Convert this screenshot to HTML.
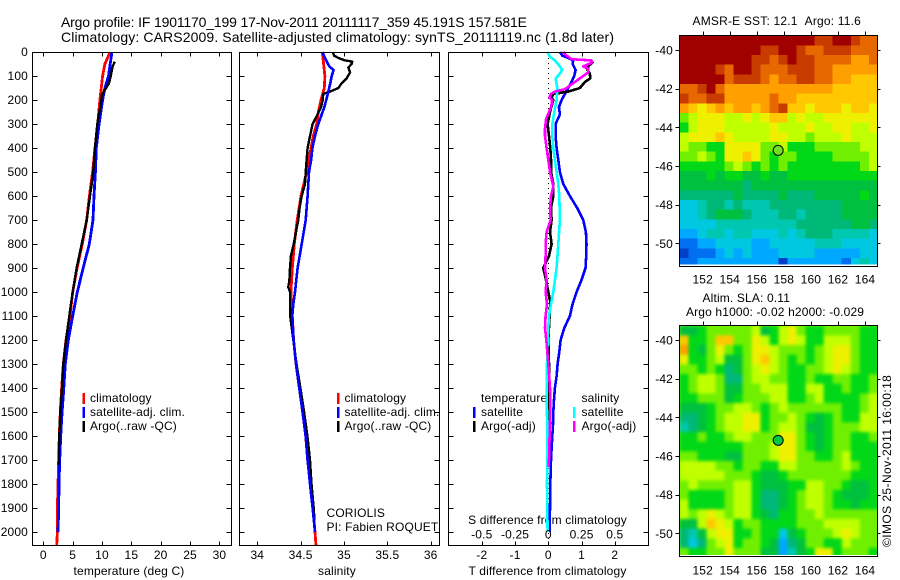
<!DOCTYPE html>
<html>
<head>
<meta charset="utf-8">
<title>Argo profile</title>
<style>
html,body{margin:0;padding:0;background:#fff;width:900px;height:580px;overflow:hidden}
svg{display:block}
text{font-family:"Liberation Sans",sans-serif;font-size:12px;fill:#000;letter-spacing:.15px}
.title{font-size:14px;letter-spacing:0}
</style>
</head>
<body>
<svg id="chart" width="900" height="580" viewBox="0 0 900 580" xmlns="http://www.w3.org/2000/svg">
<defs>
<clipPath id="sst-clip"><rect x="679.5" y="35.5" width="198" height="229"/></clipPath>
<clipPath id="sla-clip"><rect x="679.5" y="325.5" width="198" height="229.5"/></clipPath>
<filter id="sla-smooth" x="-5%" y="-5%" width="110%" height="110%" color-interpolation-filters="sRGB"><feGaussianBlur stdDeviation="1.7"/></filter>
</defs>
<text class="title" x="61" y="27" textLength="466" lengthAdjust="spacing">Argo profile: IF 1901170_199 17-Nov-2011 20111117_359 45.191S 157.581E</text>
<text class="title" x="61" y="42" textLength="553" lengthAdjust="spacing">Climatology: CARS2009. Satellite-adjusted climatology: synTS_20111119.nc (1.8d later)</text>

<text x="129" y="575" text-anchor="middle">temperature (deg C)</text>
<text x="337" y="575" text-anchor="middle">salinity</text>
<text x="547.5" y="575" text-anchor="middle">T difference from climatology</text>
<text x="547.5" y="524" text-anchor="middle">S difference from climatology</text>

<g>
<rect x="82.5" y="393" width="2.5" height="11" fill="#f00"/>
<text x="90" y="402">climatology</text>
<rect x="82.5" y="407" width="2.5" height="11" fill="#00f"/>
<text x="90" y="416">satellite-adj. clim.</text>
<rect x="82.5" y="421" width="2.5" height="11" fill="#000"/>
<text x="90" y="430">Argo(..raw -QC)</text>
</g>
<g>
<rect x="337" y="393" width="2.5" height="11" fill="#f00"/>
<text x="344.5" y="402">climatology</text>
<rect x="337" y="407" width="2.5" height="11" fill="#00f"/>
<text x="344.5" y="416">satellite-adj. clim.</text>
<rect x="337" y="421" width="2.5" height="11" fill="#000"/>
<text x="344.5" y="430">Argo(..raw -QC)</text>
</g>
<text x="326.5" y="517">CORIOLIS</text>
<text x="326.5" y="531">PI: Fabien ROQUET</text>
<g>
<text x="481" y="402">temperature</text>
<rect x="473" y="407" width="2.5" height="11" fill="#00f"/>
<text x="481" y="416">satellite</text>
<rect x="473" y="421" width="2.5" height="11" fill="#000"/>
<text x="481" y="430">Argo(-adj)</text>
<text x="581.5" y="402">salinity</text>
<rect x="573" y="407" width="2.5" height="11" fill="#0ff"/>
<text x="581.5" y="416">satellite</text>
<rect x="573" y="421" width="2.5" height="11" fill="#f0f"/>
<text x="581.5" y="430">Argo(-adj)</text>
</g>

<text x="692.5" y="25" textLength="168.5" lengthAdjust="spacing">AMSR-E SST: 12.1&#160;&#160;Argo: 11.6</text>
<text x="702.5" y="302">Altim. SLA: 0.11</text>
<text x="686" y="316">Argo h1000: -0.02 h2000: -0.029</text>
<text transform="translate(891 547) rotate(-90)" textLength="172" lengthAdjust="spacing">©IMOS 25-Nov-2011 16:00:18</text>
</svg>
<script>
// ---------- axis tick data ----------
const depthTicks = [0,100,200,300,400,500,600,700,800,900,1000,1100,1200,1300,1400,1500,1600,1700,1800,1900,2000];
const tempTicks = [0,5,10,15,20,25,30];
const salTicks = [34,34.5,35,35.5,36];
const tDiffTicks = [-2,-1,0,1,2];
const tDiffLabels = ['-2','-1','0','1','2'];
const sDiffTicks = [-0.5,-0.25,0,0.25,0.5];
const sDiffLabels = ['-0.5','-0.25','0','0.25','0.5'];
const lonTicks = [152,154,156,158,160,162,164];
const latTicks = [-40,-42,-44,-46,-48,-50];
const profileLat = -45.191;
const profileLon = 157.581;

// ---------- temperature panel ----------
const tempClimDepth = [0,50,100,200,300,400,500,600,700,800,900,1000,1100,1200,1300,1400,1500,1600,1700,1800,1900,2000,2056];
const tempClimValue = [11.4,10.5,10.1,9.65,9.27,8.8,8.4,7.85,7.4,6.65,5.75,5.0,4.55,3.87,3.4,3.13,2.9,2.73,2.62,2.5,2.4,2.4,2.28];
const tempSatDepth = [0,50,100,150,200,300,400,500,600,700,800,900,1000,1100,1200,1300,1400,1500,1600,1700,1800,1900,2000];
const tempSatValue = [11.7,11.4,11.1,10.5,10.1,9.5,9.03,8.87,8.64,8.47,7.84,6.8,5.8,5.0,4.26,3.75,3.5,3.2,2.96,2.79,2.67,2.62,2.5];
const tempArgoDepth = [40,60,100,130,180,200,300,400,500,600,700,800,900,1000,1100,1200,1300,1400,1500,1600,1700,1720];
const tempArgoValue = [12.2,11.8,11.5,11.2,9.95,9.9,9.2,8.8,8.52,7.95,7.4,6.54,5.68,5.0,4.43,3.87,3.4,3.18,2.9,2.73,2.62,2.6];

// ---------- salinity panel ----------
const salClimDepth = [0,100,150,200,250,300,350,400,500,600,700,800,900,1000,1050,1100,1200,1300,1400,1500,1600,1700,1800,1900,2000,2056];
const salClimValue = [34.75,34.78,34.773,34.735,34.704,34.685,34.646,34.619,34.569,34.504,34.46,34.427,34.404,34.388,34.396,34.404,34.419,34.446,34.485,34.523,34.558,34.58,34.612,34.642,34.665,34.677];
const salSatDepth = [0,30,60,75,100,130,180,230,300,350,400,450,500,600,700,800,900,1000,1050,1100,1200,1300,1400,1500,1600,1700,1800,1900,2000];
const salSatValue = [34.75,34.788,34.83,34.88,34.858,34.842,34.81,34.773,34.704,34.665,34.635,34.62,34.596,34.58,34.558,34.512,34.465,34.435,34.415,34.404,34.419,34.446,34.485,34.523,34.558,34.58,34.608,34.638,34.665];
const salArgoDepth = [0,15,25,35,40,50,65,85,110,130,150,165,175,200,230,260,300,350,400,450,500,550,600,650,700,750,800,850,900,950,980,1000,1050,1100,1200,1300,1400,1500,1600,1700,1800,1900,1950];
const salArgoValue = [34.873,34.885,34.935,35.01,35.096,35.088,35.05,35.07,35.03,34.973,34.935,34.84,34.76,34.754,34.735,34.696,34.638,34.608,34.58,34.569,34.558,34.55,34.512,34.488,34.473,34.446,34.42,34.388,34.377,34.37,34.358,34.377,34.377,34.38,34.415,34.452,34.497,34.54,34.578,34.608,34.625,34.65,34.66];

// ---------- difference panel ----------
const diffTSatDepth = [0,15,25,35,50,75,100,130,170,200,230,260,300,350,400,450,500,550,600,650,700,750,800,850,900,950,1000,1050,1100,1150,1200,1250,1300,1350,1400,1450,1500,1550,1600,1650,1700,1800,1900,2000];
const diffTSatValue = [0.35,0.42,0.6,0.75,0.73,0.82,0.78,0.68,0.52,0.4,0.32,0.35,0.22,0.22,0.25,0.3,0.35,0.45,0.65,0.87,1.05,1.13,1.15,1.14,1.12,1.0,0.85,0.73,0.65,0.48,0.37,0.33,0.28,0.25,0.2,0.17,0.15,0.14,0.12,0.1,0.08,0.06,0.05,0.04];
const diffTArgoDepth = [40,60,75,90,110,125,150,165,175,190,200,250,300,350,400,450,500,550,600,650,700,750,800,850,900,950,1000,1040,1100,1200,1300,1400,1500,1600,1700];
const diffTArgoValue = [1.35,1.2,1.18,1.25,1.26,1.1,0.95,0.6,0.15,0.1,0.15,0.05,-0.02,0.02,0.06,0.08,0.08,0.15,0.15,0.08,0.1,0.05,0.1,0.02,-0.15,-0.07,0,0.06,0.04,0,0.02,0.02,0.02,0.02,0.03];
const diffSSatDepth = [0,20,35,60,75,90,110,150,200,250,300,350,400,450,500,550,600,700,800,900,1000,1050,1100,1200,1300,1400,1500,1600,1700,1800,1900,2000];
const diffSSatValue = [-0.0075,0.0125,0.05,0.0875,0.105,0.0875,0.055,0.0675,0.0625,0.045,0.03,0.03,0.0375,0.05,0.0625,0.075,0.0825,0.0875,0.075,0.0625,0.0375,0.02,0.005,-0.005,-0.01,-0.0125,-0.01,-0.0075,-0.0075,-0.01,-0.0075,-0.005];
const diffSArgoDepth = [0,15,30,35,45,60,70,85,100,120,140,155,165,175,190,200,230,250,280,320,350,400,450,500,530,560,600,650,700,750,800,850,900,950,1000,1050,1100,1150,1200,1250,1300,1400,1500,1600,1700,1730];
const diffSArgoValue = [0.1125,0.1375,0.175,0.325,0.325,0.2625,0.3,0.3,0.2625,0.2125,0.1625,0.125,0.05,0.02,0.0075,0.03,0.02,0.005,-0.0175,-0.025,-0.025,-0.0125,0,0.0125,0.025,0.0375,0.02,0.0125,0.0175,-0.0125,-0.02,-0.02,-0.025,-0.0125,-0.02,-0.01,-0.02,-0.025,-0.015,-0.0075,0,0.0125,0.015,0.01,0.005,0.0025];

// ---------- map grids (colour level 0 = coldest/lowest, 15 = warmest/highest) ----------
const sstLevels = [
[15,15,15,15,15,15,15,15,15,15,15,15,15,15,15,14,14,15,15,14,13,13],
[15,15,15,15,15,15,15,15,15,14,14,15,15,14,13,13,14,14,14,13,13,13],
[15,15,15,15,15,15,15,15,14,14,13,14,15,14,14,13,13,13,13,12,12,13],
[15,15,15,15,14,13,15,15,14,13,13,13,14,14,14,13,13,12,12,12,12,12],
[15,15,15,15,15,13,14,14,14,13,12,13,13,14,14,13,13,12,12,11,11,11],
[13,13,14,15,13,12,12,12,12,12,12,12,12,12,12,12,12,11,11,11,11,11],
[14,13,13,14,14,12,12,12,12,12,13,12,12,11,11,11,11,11,11,11,11,11],
[12,11,10,11,12,11,12,12,11,12,13,14,11,11,10,11,11,11,10,11,11,10],
[8,9,10,10,10,9,9,10,9,10,11,11,9,10,9,9,10,10,10,10,10,10],
[7,9,10,10,10,9,9,9,9,9,10,9,9,9,10,9,9,10,10,9,9,10],
[9,10,10,10,11,10,9,9,9,9,10,10,9,9,8,9,9,9,10,9,9,9],
[9,8,8,7,7,10,10,10,10,8,8,9,7,7,7,8,8,8,8,8,9,9],
[8,8,9,8,7,10,10,11,10,8,7,8,8,7,7,7,7,8,8,8,8,9],
[7,7,7,7,7,8,9,8,7,8,7,8,7,7,7,7,7,7,7,7,8,9],
[6,6,6,7,6,7,7,6,6,7,6,6,7,7,7,7,7,7,7,7,7,7],
[6,6,6,6,6,6,6,5,6,6,6,6,6,6,6,6,6,6,6,6,6,6],
[5,5,5,5,5,5,6,5,5,5,5,6,5,5,5,6,6,6,6,6,7,6],
[3,3,4,5,5,4,5,4,4,4,5,5,5,5,5,5,5,5,6,6,6,6],
[3,3,4,5,6,6,6,5,4,4,4,5,5,4,5,5,5,5,6,6,6,6],
[3,3,3,3,4,4,4,4,4,4,4,4,4,5,5,5,5,5,5,6,6,5],
[2,2,3,4,4,3,4,4,3,3,3,4,3,4,5,5,5,4,4,4,4,3],
[1,1,2,2,3,3,3,3,2,2,3,3,3,3,3,4,4,4,3,3,3,3],
[0,1,1,1,2,3,2,3,2,2,2,3,3,3,3,2,2,2,2,2,3,3],
[1,1,2,2,2,2,2,2,2,2,2,0,2,2,2,2,2,2,1,3,4,3]
];
const slaLevels = [
[6,6,7,8,8,8,8,8,9,6,7,9,10,8,7,7,8,8,8,8,7,7],
[11,7,7,8,11,11,8,8,10,9,7,9,10,9,7,7,9,9,9,8,7,7],
[12,7,6,8,10,8,7,8,10,10,9,8,8,8,7,8,9,10,10,8,7,7],
[10,7,7,8,9,6,6,8,10,11,9,8,7,8,7,8,9,10,10,8,7,7],
[8,8,7,8,7,5,6,8,9,10,9,8,7,7,8,8,9,10,9,8,7,7],
[7,8,9,9,8,5,5,8,9,9,8,8,7,7,8,7,7,8,8,7,7,8],
[7,8,9,9,8,6,6,8,8,9,9,9,7,7,9,9,7,7,8,7,7,8],
[7,7,8,8,8,6,7,8,8,8,9,9,7,7,8,9,7,7,7,7,8,9],
[6,6,6,7,8,8,9,9,8,7,8,9,8,8,8,8,8,8,7,7,8,9],
[5,5,6,7,8,9,9,10,10,7,8,8,9,8,7,6,7,8,7,7,9,9],
[4,5,6,7,8,9,9,10,10,7,8,9,9,8,6,6,7,8,8,8,9,9],
[7,7,8,7,7,8,9,9,8,8,8,10,10,8,7,6,7,8,8,7,7,8],
[7,7,7,7,7,7,7,8,8,8,9,10,10,8,7,6,7,8,8,7,7,7],
[8,8,7,7,7,6,6,8,8,8,9,10,10,8,8,7,7,8,9,7,7,7],
[9,9,9,9,8,8,7,8,8,7,7,9,9,8,8,8,8,8,9,8,7,7],
[9,9,9,9,9,8,8,8,7,6,6,7,8,8,8,8,8,8,8,7,7,7],
[8,9,8,8,8,8,9,9,7,6,6,6,7,7,9,9,8,8,7,6,6,7],
[8,7,7,7,7,8,9,9,7,5,5,6,7,8,9,9,8,7,6,6,6,7],
[9,7,7,7,7,8,9,9,7,5,5,6,7,8,9,9,8,7,7,6,7,7],
[9,8,9,10,9,8,9,9,7,6,5,7,7,8,8,9,8,8,8,8,8,8],
[6,6,9,11,10,9,7,8,8,7,7,7,7,8,8,8,9,9,9,9,8,8],
[5,4,6,9,10,10,7,7,8,7,7,3,6,7,8,8,8,9,10,9,8,8],
[5,3,5,8,9,10,7,8,8,7,6,2,5,6,8,8,7,7,9,8,8,8],
[8,7,7,8,8,10,8,8,8,6,6,2,4,6,7,10,10,7,8,8,8,7]
];

// ---------- helpers ----------
const svg = document.getElementById('chart');
const NS = 'http://www.w3.org/2000/svg';
function make(tag, attrs, parent) {
  const el = document.createElementNS(NS, tag);
  for (const k in attrs) el.setAttribute(k, attrs[k]);
  (parent || svg).appendChild(el);
  return el;
}
function linear(domainA, pxA, domainB, pxB) {
  return v => pxA + (v - domainA) * (pxB - pxA) / (domainB - domainA);
}
const depthY = linear(0, 52, 2000, 532);

function levelColor(level) {
  const stops = ['#0040c8','#0070f0','#00a8ff','#00c8e0','#00c8b0','#00b878','#00c040','#00d818','#70f000','#c0ff00','#eef000','#ffc800','#ffa000','#e86800','#c83c00','#a00000'];
  return stops[Math.max(0, Math.min(15, Math.round(level)))];
}

function drawProfile(parent, name, depths, values, xFn, color, width) {
  const pts = depths.map((d, i) => xFn(values[i]).toFixed(1) + ',' + depthY(d).toFixed(1)).join(' ');
  const line = make('polyline', {points: pts, fill: 'none', stroke: color, 'stroke-width': width, 'shape-rendering': 'crispEdges', 'stroke-linejoin': 'round'}, parent);
  
  
}

function drawPanel(name, left, right, xFn, ticks, labels, showDepthLabels) {
  const g = make('g', {});
  
  
  const tickG = make('g', {stroke: '#000', 'stroke-width': 1, 'shape-rendering': 'crispEdges'}, g);
  
  
  depthTicks.forEach(d => {
    const y = Math.round(depthY(d)) + 0.5;
    const a = make('line', {x1: left, x2: left + 5, y1: y, y2: y}, tickG);
    
    
    const b = make('line', {x1: right - 5, x2: right, y1: y, y2: y}, tickG);
    
    
    if (showDepthLabels) {
      const t = make('text', {x: 28, y: depthY(d) + 4, 'text-anchor': 'end'}, g);
      t.textContent = d;
      
      
    }
  });
  ticks.forEach((v, i) => {
    const x = Math.round(xFn(v)) + 0.5;
    const a = make('line', {x1: x, x2: x, y1: 52.5, y2: 56.5}, tickG);
    
    
    const b = make('line', {x1: x, x2: x, y1: 541.5, y2: 545.5}, tickG);
    
    
    const t = make('text', {x: xFn(v), y: 559, 'text-anchor': 'middle'}, g);
    t.textContent = labels[i];
    
    
  });
  return g;
}

function drawFrame(parent, name, left, top, right, bottom) {
  const r = make('rect', {x: left, y: top, width: right - left, height: bottom - top, fill: 'none', stroke: '#000', 'stroke-width': 1, 'shape-rendering': 'crispEdges'}, parent);
  
  
}

// ---------- temperature panel ----------
const tempX = linear(0, 43.3, 30, 219.4);
const tempPanel = drawPanel('temperature-panel', 32.5, 231.5, tempX, tempTicks, tempTicks, true);
drawProfile(tempPanel, 'temperature-climatology-line', tempClimDepth, tempClimValue, tempX, '#f00', 2.8);
drawProfile(tempPanel, 'temperature-satellite-line', tempSatDepth, tempSatValue, tempX, '#00f', 2.8);
drawProfile(tempPanel, 'temperature-argo-line', tempArgoDepth, tempArgoValue, tempX, '#000', 2.4);
drawFrame(tempPanel, 'temperature-panel-frame', 32.5, 52.5, 231.5, 545.5);

// ---------- salinity panel ----------
const salX = linear(34, 257.3, 36, 430.7);
const salPanel = drawPanel('salinity-panel', 239.5, 439.5, salX, salTicks, salTicks, false);
drawProfile(salPanel, 'salinity-climatology-line', salClimDepth, salClimValue, salX, '#f00', 2.8);
drawProfile(salPanel, 'salinity-argo-line', salArgoDepth, salArgoValue, salX, '#000', 2.4);
drawProfile(salPanel, 'salinity-satellite-line', salSatDepth, salSatValue, salX, '#00f', 2.6);
drawFrame(salPanel, 'salinity-panel-frame', 239.5, 52.5, 439.5, 545.5);

// ---------- difference panel ----------
const tDiffX = linear(0, 548.3, 2, 614.8);
const sDiffX = linear(0, 548.3, 0.5, 614.8);
const diffPanel = drawPanel('difference-panel', 448.5, 648.5, tDiffX, tDiffTicks, tDiffLabels, false);
const zeroLine = make('line', {x1: 548.5, x2: 548.5, y1: 53, y2: 545, stroke: '#000', 'stroke-width': 1, 'stroke-dasharray': '1 4', 'shape-rendering': 'crispEdges'}, diffPanel);


drawProfile(diffPanel, 'difference-t-satellite-line', diffTSatDepth, diffTSatValue, tDiffX, '#00f', 2.6);
drawProfile(diffPanel, 'difference-t-argo-line', diffTArgoDepth, diffTArgoValue, tDiffX, '#000', 2.6);
drawProfile(diffPanel, 'difference-s-satellite-line', diffSSatDepth, diffSSatValue, sDiffX, '#0ff', 2.6);
drawProfile(diffPanel, 'difference-s-argo-line', diffSArgoDepth, diffSArgoValue, sDiffX, '#f0f', 2.6);
sDiffTicks.forEach((v, i) => {
  const t = make('text', {x: sDiffX(v), y: 538.5, 'text-anchor': 'middle'}, diffPanel);
  t.textContent = sDiffLabels[i];
  
  
});
drawFrame(diffPanel, 'difference-panel-frame', 448.5, 52.5, 648.5, 545.5);

// ---------- maps ----------
const lonX = linear(152, 702.7, 164, 865);
function drawMap(name, levels, clipId, latY, top, bottom, lonLabelY, markerFill, smoothed) {
  const g = make('g', {});
  
  
  const clip = make('g', {'clip-path': 'url(#' + clipId + ')'}, g);
  
  
  const cells = make('g', smoothed ? {filter: 'url(#sla-smooth)'} : {'shape-rendering': 'crispEdges'}, clip);
  
  
  const cellLon = 2 / 3;
  const cellLat = 0.5;
  const firstLon = 150.28;
  const firstLat = -39.26;
  levels.forEach((row, r) => {
    row.forEach((level, c) => {
      const x0 = lonX(firstLon + c * cellLon);
      const y0 = latY(firstLat - r * cellLat);
      const cell = make('rect', {x: x0, y: y0, width: lonX(firstLon + (c + 1) * cellLon) - x0 + 0.6, height: latY(firstLat - (r + 1) * cellLat) - y0 + 0.6, fill: levelColor(level)}, cells);
      
      
    });
  });
  drawFrame(g, name + '-frame', 679.5, top, 877.5, bottom);
  const tickG = make('g', {stroke: '#000', 'stroke-width': 1, 'shape-rendering': 'crispEdges'}, g);
  
  
  lonTicks.forEach(lon => {
    const x = Math.round(lonX(lon)) + 0.5;
    const tick = make('line', {x1: x, x2: x, y1: top - 4, y2: top}, tickG);
    
    
    const label = make('text', {x: lonX(lon), y: lonLabelY, 'text-anchor': 'middle'}, g);
    label.textContent = lon;
    
    
  });
  latTicks.forEach(lat => {
    const y = Math.round(latY(lat)) + 0.5;
    const a = make('line', {x1: 675.5, x2: 679.5, y1: y, y2: y}, tickG);
    
    
    const b = make('line', {x1: 877.5, x2: 880.5, y1: y, y2: y}, tickG);
    
    
    const label = make('text', {x: 673, y: latY(lat) + 4.5, 'text-anchor': 'end'}, g);
    label.textContent = lat;
    
    
  });
  const marker = make('circle', {cx: lonX(profileLon), cy: latY(profileLat), r: 5, fill: markerFill, stroke: '#000', 'stroke-width': 1}, g);
  
  
}
const sstLatY = linear(-40, 50, -50, 243.3);
const slaLatY = linear(-40, 340, -50, 533.3);
const slaBackground = make('rect', {x: 679.5, y: 325.5, width: 198, height: 229.5, fill: '#70f000'});


drawMap('sst-map', sstLevels, 'sst-clip', sstLatY, 35.5, 266.5, 283.5, '#70e020', false);
drawMap('sla-map', slaLevels, 'sla-clip', slaLatY, 325.5, 556.5, 574.5, '#00c840', true);
</script>
</body>
</html>
